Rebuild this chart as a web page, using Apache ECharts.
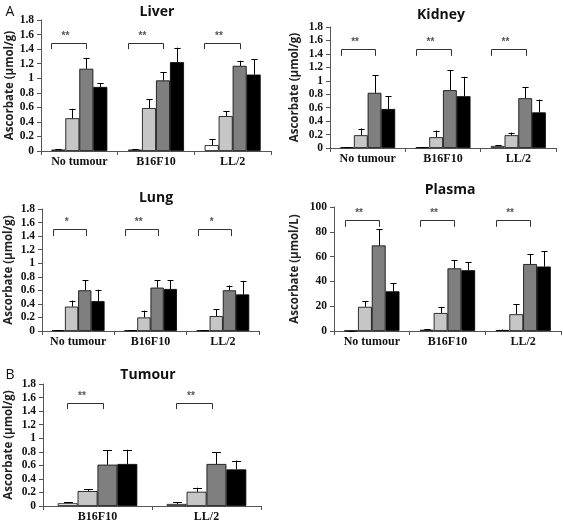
<!DOCTYPE html>
<html>
<head>
<meta charset="utf-8">
<script src="https://cdn.jsdelivr.net/npm/echarts@6/dist/echarts.min.js"></script>
<style>
html,body{margin:0;padding:0;background:#fff;}
#chart{width:563px;height:524px;}
</style>
</head>
<body>
<div id="chart"></div>
<script>
// ---------- DATA ----------
const cats3 = ['No tumour', 'B16F10', 'LL/2'];
const cats2 = ['B16F10', 'LL/2'];

// Liver (µmol/g): four treatment groups, one value per category
const liverG1 = [0.02, 0.02, 0.08];
const liverG2 = [0.45, 0.59, 0.48];
const liverG3 = [1.13, 0.97, 1.17];
const liverG4 = [0.88, 1.22, 1.05];
const liverE1 = [0.005, 0.005, 0.08];
const liverE2 = [0.13, 0.12, 0.07];
const liverE3 = [0.15, 0.11, 0.07];
const liverE4 = [0.05, 0.20, 0.21];
const liverSig = ['**', '**', '**'];

// Kidney (µmol/g)
const kidneyG1 = [0.01, 0.01, 0.03];
const kidneyG2 = [0.19, 0.16, 0.19];
const kidneyG3 = [0.82, 0.86, 0.74];
const kidneyG4 = [0.58, 0.77, 0.53];
const kidneyE1 = [0.003, 0.003, 0.01];
const kidneyE2 = [0.10, 0.10, 0.04];
const kidneyE3 = [0.26, 0.30, 0.17];
const kidneyE4 = [0.19, 0.29, 0.19];
const kidneySig = ['**', '**', '**'];

// Lung (µmol/g)
const lungG1 = [0.01, 0.01, 0.01];
const lungG2 = [0.36, 0.20, 0.22];
const lungG3 = [0.60, 0.64, 0.60];
const lungG4 = [0.44, 0.62, 0.54];
const lungE1 = [0.003, 0.003, 0.003];
const lungE2 = [0.09, 0.10, 0.10];
const lungE3 = [0.15, 0.11, 0.07];
const lungE4 = [0.17, 0.13, 0.20];
const lungSig = ['*', '**', '*'];

// Plasma (µmol/L)
const plasmaG1 = [0.3, 1.0, 0.8];
const plasmaG2 = [19.5, 14.5, 13.5];
const plasmaG3 = [69, 50.5, 54];
const plasmaG4 = [32, 49, 52];
const plasmaE1 = [0.1, 0.3, 0.4];
const plasmaE2 = [4.5, 5, 8];
const plasmaE3 = [13, 6.5, 8];
const plasmaE4 = [6.5, 6.5, 12.5];
const plasmaSig = ['**', '**', '**'];

// Tumour (µmol/g)
const tumourG1 = [0.04, 0.03];
const tumourG2 = [0.22, 0.21];
const tumourG3 = [0.61, 0.62];
const tumourG4 = [0.62, 0.54];
const tumourE1 = [0.02, 0.03];
const tumourE2 = [0.03, 0.06];
const tumourE3 = [0.21, 0.17];
const tumourE4 = [0.21, 0.13];
const tumourSig = ['**', '**'];

const ticksGram = [0, 0.2, 0.4, 0.6, 0.8, 1, 1.2, 1.4, 1.6, 1.8];
const ticksPlasma = [0, 20, 40, 60, 80, 100];

// ---------- LAYOUT / STYLE ----------
const barColors = ['#ffffff', '#c6c6c6', '#7f7f7f', '#000000'];
const CAT_GAP = 0.27;
const serif = 'Liberation Serif';
const sans = 'Open Sans';

const panels = [
  { title: 'Liver', cats: cats3, g: [liverG1, liverG2, liverG3, liverG4], e: [liverE1, liverE2, liverE3, liverE4], sig: liverSig,
    grid: { left: 41, top: 20, width: 230, height: 131 }, ticks: ticksGram, unit: 'Ascorbate (µmol/g)', nameGap: 25,
    br: { level: 1.48, leg: 0.08, f1: -0.37, f2: 0.09 }, tpos: [157, 12] },
  { title: 'Kidney', cats: cats3, g: [kidneyG1, kidneyG2, kidneyG3, kidneyG4], e: [kidneyE1, kidneyE2, kidneyE3, kidneyE4], sig: kidneySig,
    grid: { left: 330, top: 27, width: 226, height: 121 }, ticks: ticksGram, unit: 'Ascorbate (µmol/g)', nameGap: 29,
    br: { level: 1.47, leg: 0.10, f1: -0.36, f2: 0.10 }, tpos: [441, 15] },
  { title: 'Lung', cats: cats3, g: [lungG1, lungG2, lungG3, lungG4], e: [lungE1, lungE2, lungE3, lungE4], sig: lungSig,
    grid: { left: 42, top: 209, width: 217, height: 122 }, ticks: ticksGram, unit: 'Ascorbate (µmol/g)', nameGap: 27,
    br: { level: 1.50, leg: 0.10, f1: -0.35, f2: 0.11 }, tpos: [156, 198] },
  { title: 'Plasma', cats: cats3, g: [plasmaG1, plasmaG2, plasmaG3, plasmaG4], e: [plasmaE1, plasmaE2, plasmaE3, plasmaE4], sig: plasmaSig,
    grid: { left: 334, top: 207, width: 227, height: 124 }, ticks: ticksPlasma, unit: 'Ascorbate (µmol/L)', nameGap: 33,
    br: { level: 89.5, leg: 5.5, f1: -0.36, f2: 0.09 }, tpos: [450, 190] },
  { title: 'Tumour', cats: cats2, g: [tumourG1, tumourG2, tumourG3, tumourG4], e: [tumourE1, tumourE2, tumourE3, tumourE4], sig: tumourSig,
    grid: { left: 43, top: 384, width: 218, height: 122 }, ticks: ticksGram, unit: 'Ascorbate (µmol/g)', nameGap: 28,
    br: { level: 1.52, leg: 0.09, f1: -0.28, f2: 0.05 }, tpos: [148, 375] }
];

const grids = [], xAxes = [], yAxes = [], series = [], graphics = [];
const axisColor = '#555';

panels.forEach((p, pi) => {
  grids.push(Object.assign({ containLabel: false }, p.grid));
  xAxes.push({
    type: 'category', gridIndex: pi, data: p.cats,
    axisLine: { lineStyle: { color: axisColor, width: 1 } },
    axisTick: { show: true, length: 4, interval: 0, lineStyle: { color: axisColor } },
    axisLabel: { interval: 0, hideOverlap: false, margin: 5, fontFamily: serif, fontWeight: 'bold', fontSize: 12, color: '#111' },
    splitLine: { show: false }
  });
  const t = p.ticks;
  yAxes.push({
    type: 'value', gridIndex: pi, min: t[0], max: t[t.length - 1], interval: t[1] - t[0],
    name: p.unit, nameLocation: 'middle', nameGap: p.nameGap, nameRotate: 90,
    nameTextStyle: { fontFamily: sans, fontWeight: 'bold', fontSize: 11.5, color: '#222' },
    axisLine: { show: true, lineStyle: { color: axisColor, width: 1 } },
    axisTick: { show: true, length: 4, lineStyle: { color: axisColor } },
    axisLabel: { margin: 7, fontFamily: serif, fontWeight: 'bold', fontSize: 11.5, color: '#111' },
    splitLine: { show: false }
  });
  p.g.forEach((vals, si) => {
    series.push({
      type: 'bar', xAxisIndex: pi, yAxisIndex: pi, data: vals,
      barGap: '0%', barCategoryGap: (CAT_GAP * 100) + '%',
      itemStyle: { color: barColors[si], borderColor: '#000', borderWidth: 0.8 },
      z: 2
    });
  });
  p.g.forEach((vals, si) => {
    const errs = p.e[si];
    series.push({
      type: 'custom', xAxisIndex: pi, yAxisIndex: pi, z: 3,
      data: vals.map((v, c) => [c, v, errs[c]]),
      renderItem: (params, api) => {
        const bw = api.size([1, 0])[0];
        const barW = bw * (1 - CAT_GAP) / 4;
        const base = api.coord([api.value(0), api.value(1)]);
        const top = api.coord([api.value(0), api.value(1) + api.value(2)]);
        const x = Math.round(base[0] + (si - 1.5) * barW) + 0.5;
        const cap = barW * 0.45;
        const st = { stroke: '#000', lineWidth: 1 };
        return { type: 'group', children: [
          { type: 'line', shape: { x1: x, y1: base[1], x2: x, y2: top[1] }, style: st },
          { type: 'line', shape: { x1: x - cap / 2, y1: Math.round(top[1]) + 0.5, x2: x + cap / 2, y2: Math.round(top[1]) + 0.5 }, style: st }
        ] };
      }
    });
  });
  const br = p.br;
  series.push({
    type: 'custom', xAxisIndex: pi, yAxisIndex: pi, z: 4,
    data: p.sig.map((s, c) => [c, br.level]),
    renderItem: (params, api) => {
      const bw = api.size([1, 0])[0];
      const c = api.coord([api.value(0), api.value(1)]);
      const lo = api.coord([api.value(0), api.value(1) - br.leg]);
      const x1 = Math.round(c[0] + br.f1 * bw) + 0.5;
      const x2 = Math.round(c[0] + br.f2 * bw) + 0.5;
      const y = Math.round(c[1]) + 0.5;
      return { type: 'group', children: [
        { type: 'polyline', shape: { points: [[x1, lo[1]], [x1, y], [x2, y], [x2, lo[1]]] },
          style: { stroke: '#333', fill: null, lineWidth: 1 } },
        { type: 'text', x: x1 + (x2 - x1) * 0.4, y: y - 7,
          style: { text: p.sig[params.dataIndex], font: 'bold 10px Liberation Sans', fill: '#555',
                   align: 'center', verticalAlign: 'middle', textAlign: 'center', textVerticalAlign: 'middle' } }
      ] };
    }
  });
  graphics.push({ type: 'text', x: p.tpos[0], y: p.tpos[1],
    style: { text: p.title, font: 'bold 14px ' + sans, fill: '#111', align: 'center', verticalAlign: 'middle', textAlign: 'center', textVerticalAlign: 'middle' } });
});

graphics.push({ type: 'text', x: 10, y: 12, style: { text: 'A', font: '14px ' + sans, fill: '#111', align: 'center', verticalAlign: 'middle', textAlign: 'center', textVerticalAlign: 'middle' } });
graphics.push({ type: 'text', x: 10, y: 375, style: { text: 'B', font: '14px ' + sans, fill: '#111', align: 'center', verticalAlign: 'middle', textAlign: 'center', textVerticalAlign: 'middle' } });

const chart = echarts.init(document.getElementById('chart'), null, { renderer: 'canvas' });
chart.setOption({
  animation: false,
  backgroundColor: '#fff',
  grid: grids, xAxis: xAxes, yAxis: yAxes, series: series, graphic: graphics
});
</script>
</body>
</html>
